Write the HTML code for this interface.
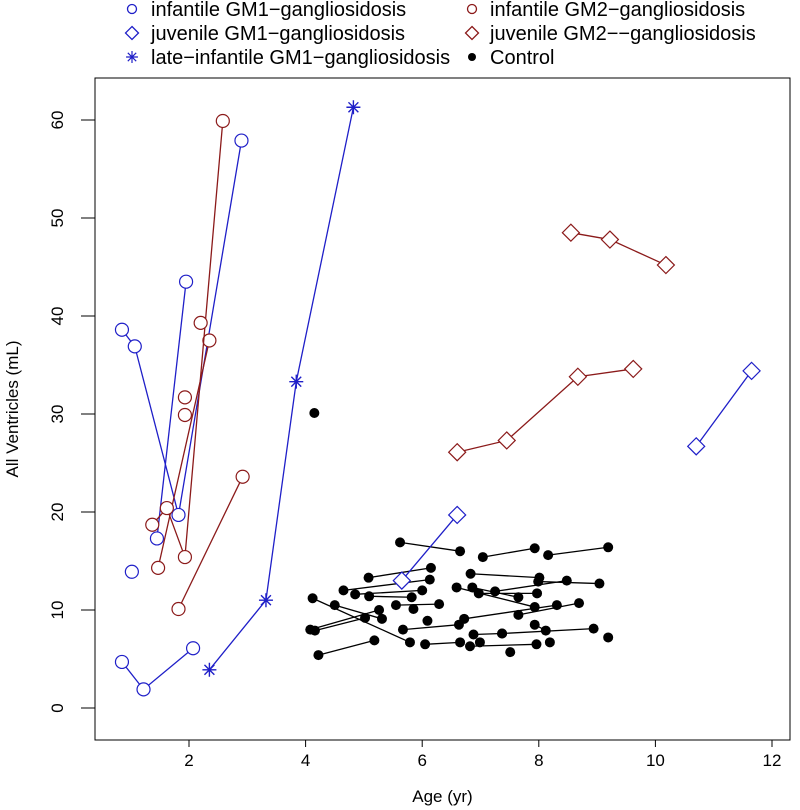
<!DOCTYPE html>
<html><head><meta charset="utf-8"><style>
body{margin:0;background:#fff}
svg{display:block;font-family:"Liberation Sans",Arial,sans-serif}
</style></head><body>
<svg id="chart" width="800" height="810" viewBox="0 0 800 810" xmlns="http://www.w3.org/2000/svg"></svg>
<script>
// x-axis ticks & y-axis ticks
const xTicks = [2,4,6,8,10,12];
const yTicks = [0,10,20,30,40,50,60];
// patient series: each subject's ages and volumes
const igm1Ages = [[0.85,1.07,1.82,2.9],[1.45,1.95],[1.02],[0.85,1.22,2.07]];
const igm1Vols = [[38.6,36.9,19.7,57.9],[17.3,43.5],[13.9],[4.7,1.9,6.1]];
const igm2Ages = [[1.47,2.35],[1.37,1.62,1.93,2.58],[2.2],[1.93],[1.93],[1.82,2.92]];
const igm2Vols = [[14.3,37.5],[18.7,20.4,15.4,59.9],[39.3],[31.7],[29.9],[10.1,23.6]];
const lateAges = [[2.35,3.32,3.84,4.82]];
const lateVols = [[3.9,11.0,33.3,61.3]];
const jgm1Ages = [[5.65,6.6],[10.7,11.65]];
const jgm1Vols = [[13.0,19.7],[26.7,34.4]];
const jgm2Ages = [[8.55,9.22,10.18],[6.6,7.45,8.67,9.62]];
const jgm2Vols = [[48.5,47.8,45.2],[26.1,27.3,33.8,34.6]];
// control subjects: pairs of visits
const ctrlAge1 = [5.62,7.04,8.16,5.08,4.65,4.85,5.09,4.12,4.5,4.08,4.16,5.55,5.85,6.09,4.22,5.67,6.05,6.82,6.99,7.51,6.88,7.37,8.19,7.93,6.72,7.65,6.59,6.86,6.97,7.25,6.83,7.99,4.15];
const ctrlVol1 = [16.9,15.4,15.6,13.3,12.0,11.6,11.4,11.2,10.5,8.0,7.9,10.5,10.1,8.9,5.4,8.0,6.5,6.3,6.7,5.7,7.5,7.6,6.7,8.5,9.1,9.5,12.3,12.3,11.7,11.9,13.7,12.9,30.1];
const ctrlAge2 = [6.65,7.93,9.19,6.15,6.13,6.0,5.82,5.79,5.31,5.26,5.02,6.29,null,null,5.18,6.63,6.65,7.96,null,null,7.37,8.94,null,8.12,8.31,8.69,7.93,7.65,7.97,8.48,8.01,9.04,null];
const ctrlVol2 = [16.0,16.3,16.4,14.3,13.1,12.0,11.3,6.7,9.1,10.0,9.2,10.6,null,null,6.9,8.5,6.7,6.5,null,null,7.6,8.1,null,7.9,10.5,10.7,10.3,11.3,11.7,13.0,13.3,12.7,null];
const extraAge = [9.19];
const extraVol = [7.2];

const NS="http://www.w3.org/2000/svg";
const svg=document.getElementById('chart');
const L=95,R=790,T=78,B=740;
const xs=v=>189+(v-2)*58.3;
const ys=v=>708-v*9.8;
const BLUE="#1f1fc8", RED="#8b1a1a";
function mk(tag,attrs,parent){const e=document.createElementNS(NS,tag);for(const k in attrs)e.setAttribute(k,attrs[k]);(parent||svg).appendChild(e);return e;}

const frame=mk('rect',{x:L,y:T,width:R-L,height:B-T,fill:'none',stroke:'#000','stroke-width':1});


xTicks.forEach(t=>{
  const l=mk('line',{x1:xs(t),x2:xs(t),y1:B,y2:B+7,stroke:'#000'});
  
  
  const tx=mk('text',{x:xs(t),y:B+26,'font-size':17,'text-anchor':'middle'});tx.textContent=t;
  
  
});
yTicks.forEach(t=>{
  const l=mk('line',{x1:L-14,x2:L,y1:ys(t),y2:ys(t),stroke:'#000'});
  
  
  const tx=mk('text',{x:63,y:ys(t),'font-size':17,'text-anchor':'middle',transform:`rotate(-90 63 ${ys(t)})`});tx.textContent=t;
  
  
});
const xl=mk('text',{x:(L+R)/2,y:802,'font-size':17,'text-anchor':'middle'});xl.textContent='Age (yr)';


const yl=mk('text',{x:18,y:(T+B)/2,'font-size':17,'text-anchor':'middle',transform:`rotate(-90 18 ${(T+B)/2})`});yl.textContent='All Ventricles (mL)';



function marker(kind,cx,cy,col,g){
  if(kind==='circle') return mk('circle',{cx,cy,r:6.5,fill:'#fff',stroke:col,'stroke-width':1.2},g);
  if(kind==='diamond') return mk('polygon',{points:`${cx},${cy-8.5} ${cx+8.5},${cy} ${cx},${cy+8.5} ${cx-8.5},${cy}`,fill:'#fff',stroke:col,'stroke-width':1.2},g);
  if(kind==='star'){const p=[];for(let i=0;i<4;i++){const a=i*Math.PI/4,dx=7*Math.cos(a),dy=7*Math.sin(a);p.push(`M${cx-dx},${cy-dy}L${cx+dx},${cy+dy}`);}
    return mk('path',{d:p.join(''),stroke:col,'stroke-width':1.4,fill:'none'},g);}
  return mk('circle',{cx,cy,r:5,fill:'#000'},g);
}
function series(ages,vols,kind,col,name){
  ages.forEach((a,i)=>{
    const g=mk('g',{});
    
    
    if(a.length>1){const ln=mk('polyline',{points:a.map((x,j)=>xs(x)+','+ys(vols[i][j])).join(' '),fill:'none',stroke:col,'stroke-width':1.3},g);
      
      }
    a.forEach((x,j)=>{const m=marker(kind,xs(x),ys(vols[i][j]),col,g);
      
      });
  });
}
// controls
ctrlAge1.forEach((a,i)=>{
  const g=mk('g',{});
  
  
  if(ctrlAge2[i]!=null){const ln=mk('line',{x1:xs(a),y1:ys(ctrlVol1[i]),x2:xs(ctrlAge2[i]),y2:ys(ctrlVol2[i]),stroke:'#000','stroke-width':1.3},g);
    
    }
  const m=marker('dot',xs(a),ys(ctrlVol1[i]),'#000',g);
  
  
  if(ctrlAge2[i]!=null){const m2=marker('dot',xs(ctrlAge2[i]),ys(ctrlVol2[i]),'#000',g);
    
    }
});
extraAge.forEach((a,i)=>{const m=marker('dot',xs(a),ys(extraVol[i]),'#000');
  
  });
series(igm1Ages,igm1Vols,'circle',BLUE,'infantile-gm1');
series(igm2Ages,igm2Vols,'circle',RED,'infantile-gm2');
series(lateAges,lateVols,'star',BLUE,'late-infantile-gm1');
series(jgm1Ages,jgm1Vols,'diamond',BLUE,'juvenile-gm1');
series(jgm2Ages,jgm2Vols,'diamond',RED,'juvenile-gm2');

// legend
const legLabels=['infantile GM1\u2212gangliosidosis','juvenile GM1\u2212gangliosidosis','late\u2212infantile GM1\u2212gangliosidosis','infantile GM2\u2212gangliosidosis','juvenile GM2\u2212\u2212gangliosidosis','Control'];
const legKinds=['circle','diamond','star','circle','diamond','dot'];
const legCols=[BLUE,BLUE,BLUE,RED,RED,'#000'];
legLabels.forEach((lab,i)=>{
  const col=Math.floor(i/3),row=i%3;
  const mx=col?472:132,my=9+row*24;
  const g=mk('g',{});
  
  
  const k=legKinds[i];
  if(k==='circle')mk('circle',{cx:mx,cy:my,r:4.5,fill:'none',stroke:legCols[i],'stroke-width':1.3},g);
  else if(k==='diamond')mk('polygon',{points:`${mx},${my-6.5} ${mx+6.5},${my} ${mx},${my+6.5} ${mx-6.5},${my}`,fill:'none',stroke:legCols[i],'stroke-width':1.3},g);
  else if(k==='star')marker('star',mx,my,legCols[i],g).setAttribute('transform',`translate(${mx} ${my}) scale(0.85) translate(${-mx} ${-my})`);
  else mk('circle',{cx:mx,cy:my,r:4,fill:'#000'},g);
  const t=mk('text',{x:col?490:151,y:my+7,'font-size':20},g);t.textContent=lab;
});
</script>
</body></html>
